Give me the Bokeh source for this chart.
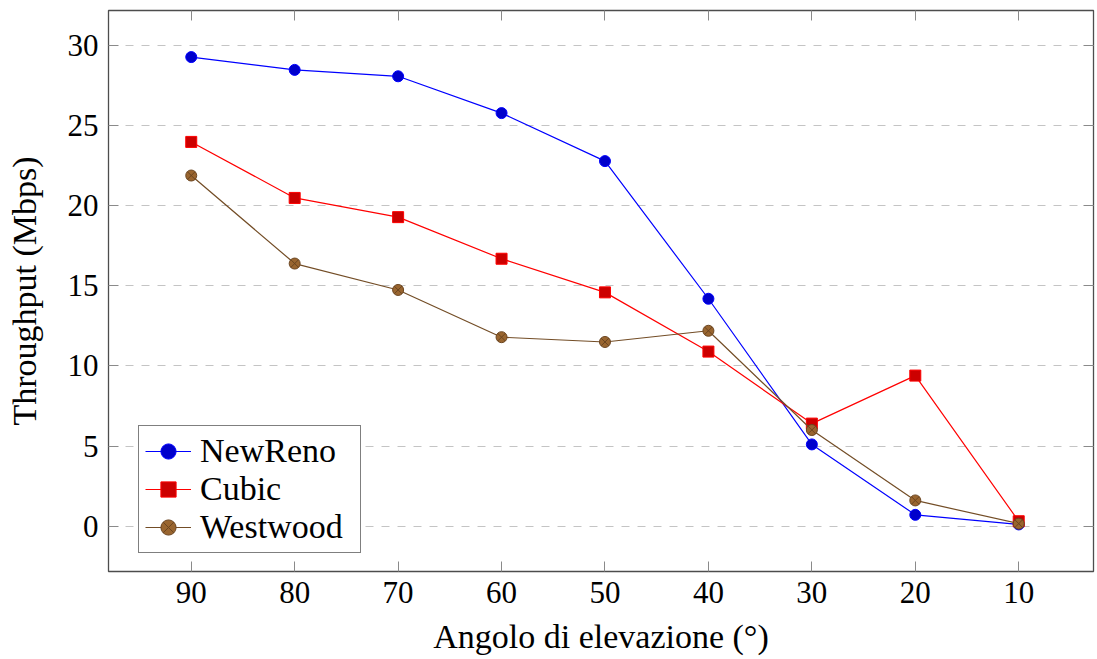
from bokeh.plotting import figure
from bokeh.models import Range1d, FixedTicker, LinearAxis, Legend, LegendItem, CustomLabelingPolicy
from bokeh.embed import file_html
from bokeh.resources import INLINE

angles = [90, 80, 70, 60, 50, 40, 30, 20, 10]
newreno = [29.3, 28.5, 28.1, 25.8, 22.8, 14.2, 5.1, 0.7, 0.1]
cubic = [24.0, 20.5, 19.3, 16.7, 14.6, 10.9, 6.4, 9.4, 0.3]
westwood = [21.9, 16.4, 14.75, 11.8, 11.5, 12.2, 6.0, 1.6, 0.15]
y_ticks = [0, 5, 10, 15, 20, 25, 30]
x_label = "Angolo di elevazione (°)"
y_label = "Throughput (Mbps)"

FONT = "Liberation Serif"
AX = "#4d4d4d"
TICK = "#8a8a8a"

p = figure(width=1097, height=659, output_backend="svg", toolbar_location=None,
           x_range=Range1d(98, 2.77), y_range=Range1d(-2.84, 32.21),
           min_border_left=108, min_border_right=0, min_border_top=10, min_border_bottom=88)

p.outline_line_color = AX
p.outline_line_width = 1.3
p.background_fill_color = "white"
p.border_fill_color = "white"

p.xgrid.visible = False
p.ygrid.grid_line_color = "#c4c4c4"
p.ygrid.grid_line_dash = "8 8"
p.ygrid.grid_line_width = 1
p.ygrid.ticker = FixedTicker(ticks=y_ticks)

for ax in (p.xaxis[0], p.yaxis[0]):
    ax.major_tick_in = 10
    ax.major_tick_out = 0
    ax.minor_tick_in = 0
    ax.minor_tick_out = 0
    ax.major_tick_line_color = TICK
    ax.axis_line_color = None
    ax.major_label_text_font = FONT
    ax.major_label_text_font_size = "31px"
    ax.major_label_text_color = "black"
    ax.axis_label_text_font = FONT
    ax.axis_label_text_font_size = "34px"
    ax.axis_label_text_font_style = "normal"
    ax.axis_label_text_color = "black"

p.xaxis[0].ticker = FixedTicker(ticks=angles)
p.yaxis[0].ticker = FixedTicker(ticks=y_ticks)
p.xaxis[0].axis_label = x_label
p.yaxis[0].axis_label = y_label
p.xaxis[0].major_label_standoff = 10
p.yaxis[0].major_label_standoff = 10
p.xaxis[0].axis_label_standoff = 12
p.yaxis[0].axis_label_standoff = 22

hide_labels = "for (const i of indices) { indices.unset(i) }\nreturn indices"
for loc, tk in (("above", angles), ("right", y_ticks)):
    a = LinearAxis(ticker=FixedTicker(ticks=tk))
    a.major_tick_in = 10
    a.major_tick_out = 0
    a.minor_tick_in = 0
    a.minor_tick_out = 0
    a.major_tick_line_color = TICK
    a.axis_line_color = None
    a.major_label_policy = CustomLabelingPolicy(code=hide_labels)
    a.major_label_text_font_size = "1px"
    a.major_label_standoff = 0
    a.axis_label_standoff = 0
    p.add_layout(a, loc)

r1l = p.line(angles, newreno, line_color="#0000ff", line_width=1.2)
r1m = p.scatter(angles, newreno, marker="circle", size=11, fill_color="#0000cc", line_color="#0000ff", line_width=1)
r2l = p.line(angles, cubic, line_color="#ff0000", line_width=1.2)
r2m = p.scatter(angles, cubic, marker="square", size=11, fill_color="#cc0000", line_color="#ff0000", line_width=1)
r3l = p.line(angles, westwood, line_color="#734d26", line_width=1.2)
r3m = p.scatter(angles, westwood, marker="circle_x", size=11, fill_color="#99652f", line_color="#6b4520", line_width=1)

legend = Legend(items=[
    LegendItem(label="NewReno", renderers=[r1l, r1m]),
    LegendItem(label="Cubic", renderers=[r2l, r2m]),
    LegendItem(label="Westwood", renderers=[r3l, r3m]),
], location=(30, 18))
legend.label_text_font = FONT
legend.label_text_font_size = "34px"
legend.label_text_color = "black"
legend.glyph_width = 46
legend.glyph_height = 38
legend.label_height = 38
legend.label_width = 154
legend.spacing = 0
legend.padding = 6
legend.margin = 0
legend.label_standoff = 9
legend.border_line_color = "black"
legend.border_line_width = 1.3
legend.background_fill_alpha = 1
p.add_layout(legend, "center")

open("out.html", "w").write(file_html(p, INLINE))
